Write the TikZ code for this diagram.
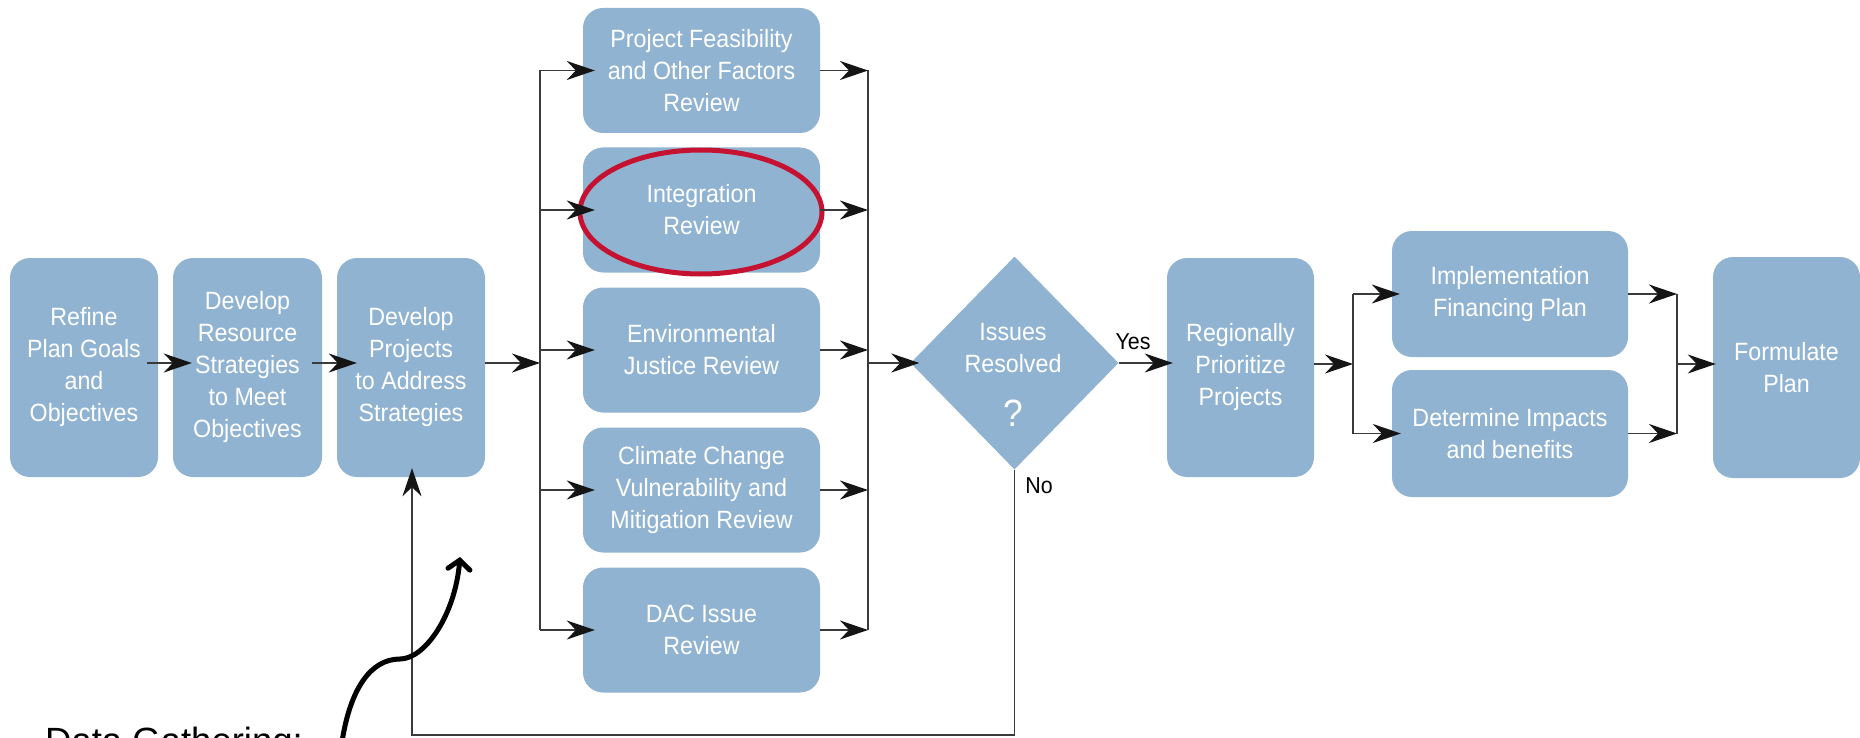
\documentclass[tikz,border=0pt]{standalone}
\usepackage{fontspec}
\setmainfont{Liberation Sans}
\newfontfamily\boxfont[FakeStretch=0.93]{Liberation Sans}
\usetikzlibrary{arrows.meta,shapes.geometric}
\definecolor{boxblue}{HTML}{91B3D2}
\definecolor{linegray}{HTML}{3A3A3A}
\definecolor{tipblack}{HTML}{151515}
\definecolor{ringred}{HTML}{C41230}
\tikzset{
  box/.style={rectangle, rounded corners=20pt, fill=boxblue, text=white,
    font=\boxfont\fontsize{25}{32}\selectfont, align=center, inner sep=0pt},
  decision/.style={diamond, fill=boxblue, inner sep=0pt, aspect=1},
  wtext/.style={text=white, font=\boxfont\fontsize{25}{32}\selectfont, align=center, inner sep=0pt},
  btext/.style={text=black, font=\boxfont\fontsize{23}{28}\selectfont, inner sep=0pt},
  conn/.style={draw=linegray, line width=1.4pt},
  arr/.style={conn, -{Stealth[length=28pt,width=19pt,inset=9pt,color=tipblack]}},
  ring/.style={draw=ringred, line width=5pt},
  bigarrow/.style={draw=black, line width=5pt, line cap=round,
    -{Straight Barb[length=9pt,width=22pt,line cap=round]}}
}
\begin{document}
\begin{tikzpicture}[x=1pt,y=-1pt]
\useasboundingbox (0,0) rectangle (1860,738);

% main row boxes
\node[box, minimum width=148pt, minimum height=219pt] (b1) at (84,367.5) {Refine\\Plan Goals\\and\\Objectives};
\node[box, minimum width=149pt, minimum height=219pt] (b2) at (247.5,367.5) {Develop\\Resource\\Strategies\\to Meet\\Objectives};
\node[box, minimum width=148pt, minimum height=219pt] (b3) at (411,367.5) {Develop\\Projects\\to Address\\Strategies};

% review boxes
\node[box, minimum width=237pt, minimum height=125pt] (pf) at (701.5,70.5) {Project Feasibility\\and Other Factors\\Review};
\node[box, minimum width=237pt, minimum height=125pt] (ir) at (701.5,210) {Integration\\Review};
\node[box, minimum width=237pt, minimum height=125pt] (ej) at (701.5,350) {Environmental\\Justice Review};
\node[box, minimum width=237pt, minimum height=125pt] (cc) at (701.5,490) {Climate Change\\Vulnerability and\\Mitigation Review};
\node[box, minimum width=237pt, minimum height=125pt] (dac) at (701.5,630) {DAC Issue\\Review};

% decision
\node[decision, minimum width=208pt, minimum height=213pt] (dia) at (1014.5,363) {};
\node[wtext] (diatxt) at (1013,348) {Issues\\Resolved};
\node[wtext, font=\boxfont\fontsize{38}{38}\selectfont] (diaq) at (1013,413) {?};

% right side boxes
\node[box, minimum width=147pt, minimum height=219pt] (reg) at (1240.5,367.5) {Regionally\\Prioritize\\Projects};
\node[box, minimum width=236pt, minimum height=126pt] (impl) at (1510,294) {Implementation\\Financing Plan};
\node[box, minimum width=236pt, minimum height=127pt] (det) at (1510,433.5) {Determine Impacts\\and benefits};
\node[box, minimum width=147pt, minimum height=221pt] (form) at (1786.5,367.5) {Formulate\\Plan};

% highlight ring
\draw[ring] (701,212) ellipse [x radius=121, y radius=62];

% junction coordinates
\coordinate (sL) at (540,363);
\coordinate (sR) at (868,363);
\coordinate (sL2) at (1353,364);
\coordinate (sR2) at (1677,364);
\coordinate (fb) at (412,735);

% main row arrows
\draw[arr, shorten <=-11pt, shorten >=-19pt] (b1.east |- sL) -- (b2.west |- sL);
\draw[arr, shorten <=-10pt, shorten >=-20pt] (b2.east |- sL) -- (b3.west |- sL);
\draw[arr] (b3.east |- sL) -- (sL);

% fan out
\draw[conn] (sL |- pf.west) -- (sL |- dac.west);
\foreach \n in {pf,ir,ej,cc,dac}{
  \draw[arr, shorten >=-12pt] (sL |- \n.west) -- (\n.west);
  \draw[arr] (\n.east) -- (sR |- \n.east);
}
\draw[conn] (sR |- pf.east) -- (sR |- dac.east);
\draw[arr, shorten >=-9pt] (sR) -- (dia.west);

% yes branch
\draw[arr, shorten >=-6pt] (dia.east) -- (reg.west |- dia.east);
\node[btext] (yes) at (1133,342) {Yes};

% fan out 2
\draw[arr] (reg.east |- sL2) -- (sL2);
\draw[conn] (sL2 |- impl.west) -- (sL2 |- det.west);
\draw[arr, shorten >=-8pt] (sL2 |- impl.west) -- (impl.west);
\draw[arr, shorten >=-9pt] (sL2 |- det.west) -- (det.west);
\draw[arr] (impl.east) -- (sR2 |- impl.east);
\draw[arr] (det.east) -- (sR2 |- det.east);
\draw[conn] (sR2 |- impl.east) -- (sR2 |- det.east);
\draw[arr, shorten >=-3pt] (sR2) -- (form.west |- sR2);

% feedback loop
\draw[arr, shorten >=-9pt] (dia.south) |- (fb) -- (fb |- b3.south);
\node[btext] (no) at (1039,486) {No};

% data gathering note
\node[anchor=base west, font=\fontsize{36.5}{40}\selectfont, inner sep=0pt] (dg) at (45,753) {Data Gathering:};
\coordinate (cs) at (342,742);
\coordinate (ct) at (460,557);
\draw[bigarrow] (cs) .. controls (350,690) and (370,659) .. (400,659) .. controls (425,659) and (455,615) .. (ct);
\end{tikzpicture}
\end{document}
